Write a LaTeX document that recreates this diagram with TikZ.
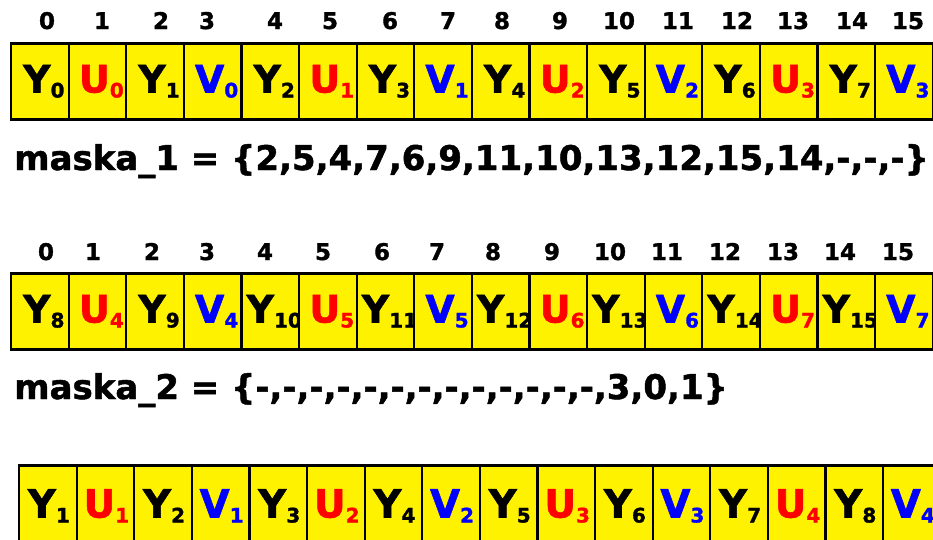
\documentclass[tikz,border=0pt]{standalone}
\usepackage{fontspec}
\setmainfont{DejaVu Sans}[BoldFeatures={FakeBold=1.4}]
\usepackage{tikz}
\colorlet{colY}{black}
\colorlet{colU}{red}
\colorlet{colV}{blue}
\tikzset{
  cell/.style={draw,line width=2.2pt,fill=yellow,outer sep=0pt,inner sep=0pt,
    minimum width=57.6pt,minimum height=76pt,anchor=north west},
  lbl/.style={anchor=base,inner sep=0pt,xshift=4pt,yshift=-49pt,
    font=\fontsize{38}{38}\selectfont\bfseries},
  idx/.style={anchor=base,inner sep=0pt,font=\fontsize{23}{23}\selectfont\bfseries},
  mask/.style={anchor=base west,inner sep=0pt,font=\fontsize{34}{34}\selectfont\bfseries},
}
% letter with a lowered index
\newcommand{\smp}[2]{#1\raisebox{-5pt}{\fontsize{20}{20}\selectfont #2}}
% one strip of 16 cells: name, left, top, extra label options, cells
\def\strip#1#2#3#4#5{%
  \foreach \l/\n [count=\i from 0] in {#5} {
    \node[cell] (#1c\i) at ({#2+\i*57.6},#3) {};
    \node[lbl,#4,text=col\l] (#1t\i) at (#1c\i.north) {\smp{\l}{\n}};
  }}

\begin{document}
\begin{tikzpicture}[x=1pt,y=-1pt]
  \useasboundingbox (0,0) rectangle (933,539);
  \clip (0,0) rectangle (933,539);
  % byte positions above the first two strips
  \foreach \x [count=\i from 0] in {47,102,161,207,275,330,390,448,502,560,619,678,737,793,852,908}
    \node[idx] (a\i) at (\x,29) {\i};
  \foreach \x [count=\i from 0] in {46,93,152,207,265,323,382,437,493,552,610,667,725,783,840,898}
    \node[idx] (b\i) at (\x,260) {\i};
  % packed YUV data
  \strip{r1}{11}{43.5}{}{Y/0,U/0,Y/1,V/0,Y/2,U/1,Y/3,V/1,Y/4,U/2,Y/5,V/2,Y/6,U/3,Y/7,V/3}
  \strip{r2}{11}{273.5}{}{Y/8,U/4,Y/9,V/4,Y/10,U/5,Y/11,V/5,Y/12,U/6,Y/13,V/6,Y/14,U/7,Y/15,V/7}
  % shuffle masks
  \node[mask] (m1) at (14,170) {maska\_1 = \{2,5,4,7,6,9,11,10,13,12,15,14,-,-,-\}};
  \node[mask] (m2) at (14,399) {maska\_2 = \{-,-,-,-,-,-,-,-,-,-,-,-,-,3,0,1\}};
  % result
  \strip{r3}{19}{465.5}{xshift=-3pt,yshift=-3pt,font=\fontsize{39}{39}\selectfont\bfseries}{Y/1,U/1,Y/2,V/1,Y/3,U/2,Y/4,V/2,Y/5,U/3,Y/6,V/3,Y/7,U/4,Y/8,V/4}
\end{tikzpicture}
\end{document}
